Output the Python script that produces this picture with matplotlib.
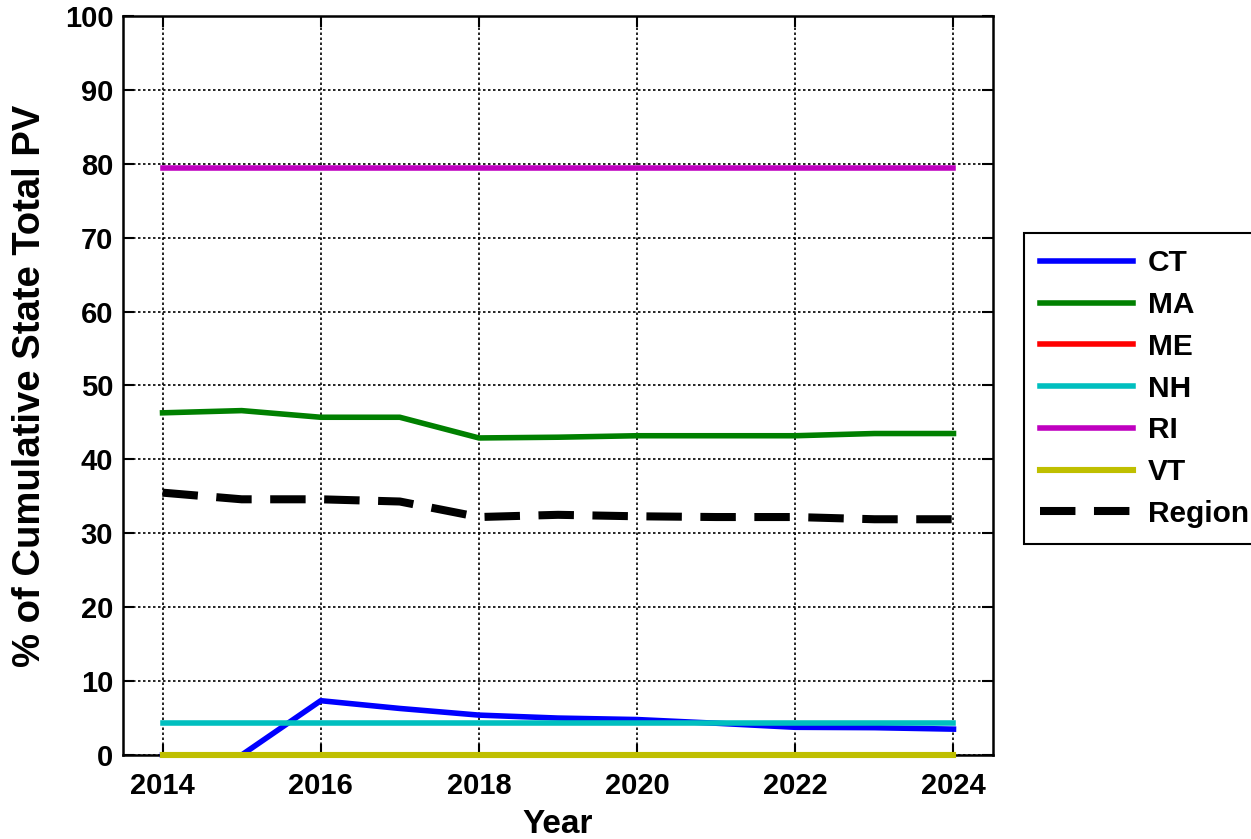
import matplotlib.pyplot as plt
import numpy as np

plt.rcParams['font.family'] = ['Liberation Sans', 'DejaVu Sans']
plt.rcParams['font.weight'] = 'bold'

years = np.arange(2014, 2025)
ct = [0.0, 0.0, 7.35, 6.3, 5.4, 5.0, 4.8, 4.3, 3.75, 3.7, 3.5]
ma = [46.3, 46.6, 45.7, 45.7, 42.9, 43.0, 43.2, 43.2, 43.2, 43.5, 43.5]
me = [0.0] * 11
nh = [4.3] * 11
ri = [79.4] * 11
vt = [0.0] * 11
region = [35.5, 34.6, 34.6, 34.3, 32.2, 32.5, 32.3, 32.2, 32.2, 31.9, 31.9]

series = [
    ('CT', ct, '#0000ff'),
    ('MA', ma, '#008000'),
    ('ME', me, '#ff0000'),
    ('NH', nh, '#00bfbf'),
    ('RI', ri, '#bf00bf'),
    ('VT', vt, '#bfbf00'),
]

fig = plt.figure(figsize=(12.51, 8.39), dpi=100)
ax = fig.add_axes([0.0983, 0.1001, 0.6955, 0.8809])

for name, vals, col in series:
    lw = 4.4 if name == 'VT' else 4.0
    ax.plot(years, vals, color=col, lw=lw, label=name, clip_on=False, zorder=3)
ax.plot(years, region, color='black', lw=5.8, ls=(0, (4.4, 2.3)),
        label='Region', clip_on=False, zorder=3)

ax.set_xlim(2013.5, 2024.5)
ax.set_ylim(0, 100)
ax.set_xticks(range(2014, 2025, 2))
ax.set_yticks(range(0, 101, 10))
ax.grid(True, color='black', ls=(0, (1.5, 1.5)), lw=1.2)
ax.set_axisbelow(True)
for s in ax.spines.values():
    s.set_linewidth(1.8)
    s.set_zorder(2.5)
ax.tick_params(direction='in', length=8, width=1.5, top=True, right=True,
               labelsize=21)
ax.tick_params(axis='x', pad=12)
ax.tick_params(axis='y', pad=7)

ax.set_xlabel('Year', fontsize=24, fontweight='bold', labelpad=7)
ax.set_ylabel('% of Cumulative State Total PV', fontsize=27.5, fontweight='bold', labelpad=12)

leg = fig.legend(loc='upper left', bbox_to_anchor=(1024 / 1251, 1 - 233 / 839),
                 borderaxespad=0, fontsize=21.5, handlelength=3.1, handletextpad=0.5,
                 labelspacing=0.46, fancybox=False, framealpha=1, borderpad=0.55)
leg.get_frame().set_edgecolor('black')
leg.get_frame().set_linewidth(1.5)
for t in leg.get_texts():
    t.set_fontweight('bold')

fig.savefig('out.png', dpi=100)
